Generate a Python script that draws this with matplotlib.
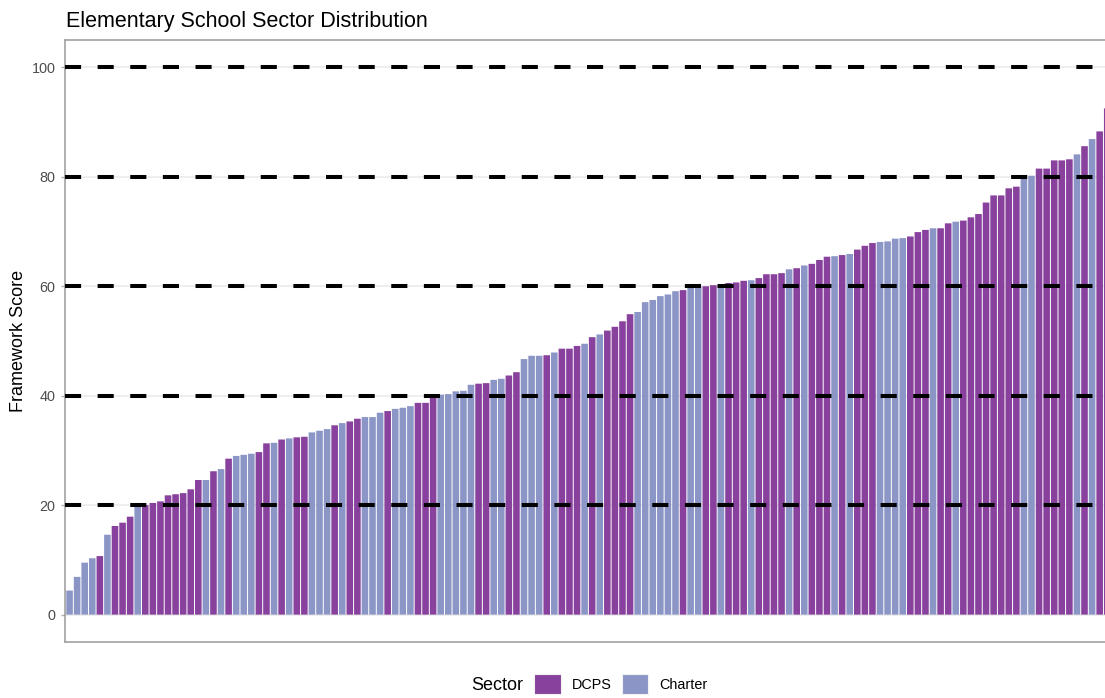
import matplotlib
matplotlib.use("Agg")
import matplotlib.pyplot as plt
from matplotlib.patches import Patch

plt.rcParams['font.family'] = ['Liberation Sans', 'DejaVu Sans']

# framework scores, sorted low to high, and the sector of each school
scores = [4.4, 6.9, 9.5, 10.3, 10.7, 14.6, 16.2, 16.8, 17.9, 19.9,
          20.0, 20.4, 20.7, 21.8, 22.0, 22.2, 22.9, 24.6, 24.6, 26.2,
          26.6, 28.5, 29.0, 29.2, 29.4, 29.7, 31.3, 31.4, 32.0, 32.2,
          32.4, 32.5, 33.3, 33.6, 33.9, 34.6, 35.0, 35.3, 35.8, 36.1,
          36.1, 36.9, 37.2, 37.6, 37.8, 38.1, 38.7, 38.7, 39.7, 40.2,
          40.3, 40.8, 40.9, 42.0, 42.2, 42.3, 42.9, 43.1, 43.7, 44.3,
          46.7, 47.3, 47.3, 47.4, 47.9, 48.6, 48.6, 49.1, 49.5, 50.7,
          51.2, 51.9, 52.6, 53.6, 54.9, 55.3, 57.1, 57.5, 58.2, 58.5,
          59.1, 59.3, 59.9, 60.0, 60.0, 60.2, 60.2, 60.6, 60.7, 61.0,
          61.1, 61.5, 62.2, 62.2, 62.4, 63.1, 63.3, 63.8, 64.1, 64.8,
          65.4, 65.5, 65.7, 65.9, 66.7, 67.4, 67.9, 68.1, 68.2, 68.7,
          68.8, 69.1, 69.9, 70.3, 70.6, 70.6, 71.5, 71.8, 72.0, 72.6,
          73.2, 75.3, 76.6, 76.6, 77.9, 78.2, 79.7, 80.2, 81.5, 81.5,
          83.0, 83.0, 83.2, 84.1, 85.6, 86.9, 88.3, 92.5]

# D = DCPS, C = Charter
sector_codes = ("CCCCDCDDDC" "DDDDDDDDCD" "CDCCCDDCDC" "DDCCCDCDDC"
                "CCDCCCDDDC" "CCCCDDCCDD" "CCCDCDDDCD" "CDDDDCCCCC"
                "CDCCDDCDDD" "CDDDDCDCDD" "DCDCDDDCCC" "CDDDCDDCDD"
                "DDDDDDCCDD" "DDDCDCDD")
sector_names = {"D": "DCPS", "C": "Charter"}
sectors = [sector_names[c] for c in sector_codes]

sector_order = ["DCPS", "Charter"]
sector_colors = {"DCPS": "#88419D", "Charter": "#8C96C6"}
ref_lines = [20, 40, 60, 80, 100]
y_ticks = [0, 20, 40, 60, 80, 100]

W, H = 1105, 698
fig = plt.figure(figsize=(W / 100, H / 100), dpi=100)
ax = fig.add_axes([65 / W, (H - 642) / H, (1108 - 65) / W, (642 - 40) / H])

x = list(range(len(scores)))
bars = ax.bar(x, scores, width=0.87, color=[sector_colors[s] for s in sectors],
              linewidth=0, zorder=2)
for b in bars:
    b.set_snap(False)

for yv in ref_lines:
    ax.axhline(yv, color="black", lw=2.9, linestyle=(0, (4, 4.1)), zorder=3)

ax.set_xlim(-0.6, 137.1)
ax.set_ylim(-5, 105)
ax.set_yticks(y_ticks)
ax.set_xticks([])
ax.yaxis.grid(True, color="#EBEBEB", lw=1.2, zorder=0)
ax.set_axisbelow(True)
ax.tick_params(axis="y", labelsize=10.4, labelcolor="#4D4D4D",
               color="#B3B3B3", length=3, width=1, pad=4)
for side in ["left", "top", "bottom", "right"]:
    ax.spines[side].set_color("#9A9A9A")
    ax.spines[side].set_linewidth(1.1)

fig.text(66 / W, 1 - 26.7 / H, "Elementary School Sector Distribution",
         fontsize=15.5, color="black", ha="left", va="baseline")
fig.text(18.5 / W, 1 - 341 / H, "Framework Score", fontsize=13,
         rotation=90, ha="center", va="center")

# legend at the bottom with the title on the left
fig.text(471 / W, 1 - 685 / H, "Sector", fontsize=13, ha="left", va="center")
handles = [Patch(facecolor=sector_colors[s], edgecolor="#F2F2F2", lw=0.8)
           for s in sector_order]
fig.legend(handles, sector_order, loc="center left",
           bbox_to_anchor=(534 / W, 1 - 684 / H), ncol=2, frameon=False,
           fontsize=10.4, handlelength=1.85, handleheight=1.8,
           handletextpad=0.75, columnspacing=0.7, borderpad=0,
           borderaxespad=0)

fig.savefig("out.png", dpi=100)
